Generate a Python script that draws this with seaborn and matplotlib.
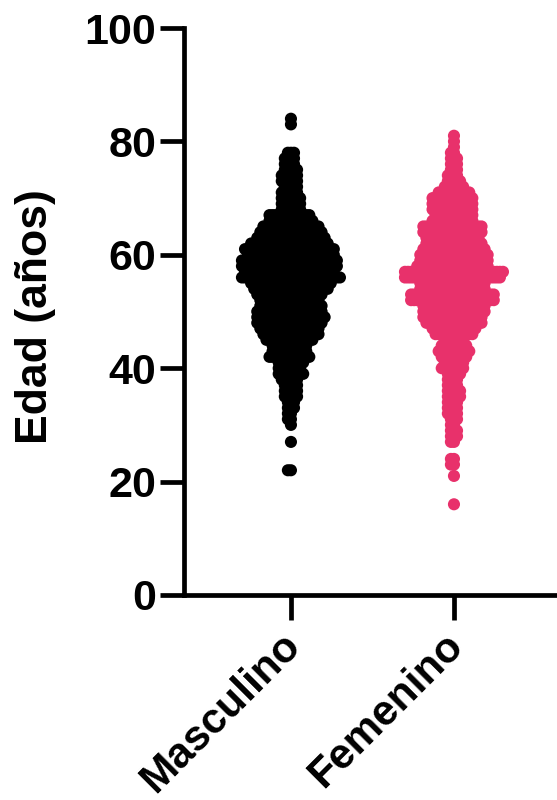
import numpy as np
import pandas as pd
import matplotlib
matplotlib.use("Agg")
import matplotlib.pyplot as plt
from matplotlib.transforms import ScaledTranslation
import seaborn as sns

# ---------------------------------------------------------------------------
# Data: number of patients per year of age
# ---------------------------------------------------------------------------

CATEGORIES = ["Masculino", "Femenino"]
TICKS_Y = [0, 20, 40, 60, 80, 100]

AGES_M = [84, 83, 78, 77, 76, 75, 74, 73, 72, 71, 70, 69, 68, 67, 66, 65, 64, 63, 62,
          61, 60, 59, 58, 57, 56, 55, 54, 53, 52, 51, 50, 49, 48, 47, 46, 45, 44, 43,
          42, 41, 40, 39, 38, 37, 36, 35, 34, 33, 32, 31, 30, 27, 22]
COUNTS_M = [1, 1, 3, 4, 4, 5, 6, 6, 5, 6, 7, 7, 7, 14, 15, 19, 21, 23, 26,
            30, 29, 32, 32, 30, 33, 27, 25, 22, 20, 21, 22, 23, 22, 20, 19, 16, 12, 12,
            14, 9, 8, 9, 6, 5, 5, 5, 3, 3, 2, 2, 1, 1, 2]

AGES_F = [81, 80, 79, 78, 77, 76, 75, 74, 73, 72, 71, 70, 69, 68, 67, 66, 65, 64, 63,
          62, 61, 60, 59, 58, 57, 56, 55, 54, 53, 52, 51, 50, 49, 48, 47, 46, 45, 44,
          43, 42, 41, 40, 39, 38, 37, 36, 35, 34, 33, 32, 31, 30, 29, 28, 27, 24, 23,
          21, 16]
COUNTS_F = [1, 1, 1, 2, 3, 3, 3, 4, 5, 7, 11, 14, 14, 14, 13, 14, 20, 20, 18,
            19, 21, 23, 23, 24, 33, 32, 22, 22, 28, 28, 21, 21, 20, 19, 15, 13, 7, 9,
            11, 9, 7, 8, 5, 4, 4, 5, 5, 4, 4, 4, 3, 2, 3, 3, 2, 2, 2,
            1, 1]

PALETTE = {"Masculino": "#000000", "Femenino": "#E8316B"}

df = pd.DataFrame({
    "sexo": ["Masculino"] * sum(COUNTS_M) + ["Femenino"] * sum(COUNTS_F),
    "edad": np.concatenate([np.repeat(AGES_M, COUNTS_M), np.repeat(AGES_F, COUNTS_F)]),
})

# ---------------------------------------------------------------------------
# Plot
# ---------------------------------------------------------------------------

sns.set_style("ticks")
plt.rcParams["font.family"] = ["Liberation Sans", "DejaVu Sans"]

fig = plt.figure(figsize=(5.57, 8.0), dpi=100)
ax = fig.add_axes([184 / 557, 1 - 595 / 800, (557 - 184) / 557, (595 - 28) / 800])

# tight spacing for the layout, the big dots are set after the swarm is computed
sns.swarmplot(data=df, x="sexo", y="edad", hue="sexo", order=CATEGORIES,
              palette=PALETTE, size=2.1, linewidth=0, legend=False, ax=ax)

ax.set_xlim(-0.656, 1.632)
ax.set_ylim(0, 100)

fig.canvas.draw()
for coll in ax.collections:
    del coll.draw
    coll.set_sizes([76])
    coll.set_clip_on(False)

sns.despine(ax=ax)
for side in ["left", "bottom"]:
    ax.spines[side].set_linewidth(3.4)
    ax.spines[side].set_color("black")

ax.set_yticks(TICKS_Y)
ax.tick_params(axis="y", length=17, width=3.4, pad=3, labelsize=31, color="black", labelcolor="black")
ax.tick_params(axis="x", length=18, width=3.4, pad=4, labelsize=30.5, color="black", labelcolor="black")
for lab in ax.get_yticklabels():
    lab.set_fontweight("bold")
ax.set_xticks([0, 1])
ax.set_xticklabels(CATEGORIES, rotation=45, ha="right", rotation_mode="anchor",
                   fontweight="bold")
offset = ScaledTranslation(-8 / 72, 0, fig.dpi_scale_trans)
for lab in ax.get_xticklabels():
    lab.set_transform(lab.get_transform() + offset)

ax.set_xlabel("")
ax.set_ylabel("Edad (años)", fontsize=32, fontweight="bold", color="black")
ax.yaxis.set_label_coords((56 - 184) / 373, (595 - 317) / 567)

fig.savefig("out.png", dpi=100)
